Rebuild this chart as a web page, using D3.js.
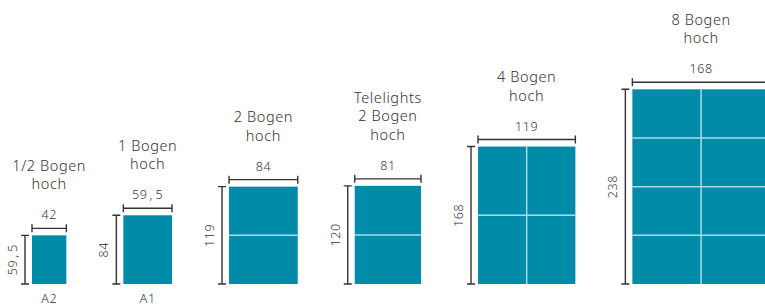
<!DOCTYPE html>
<html><head><meta charset="utf-8">
<script src="https://cdn.jsdelivr.net/npm/d3@7"></script>
<style>
html,body{margin:0;padding:0;background:#fff;}
svg{display:block;}
text{font-family:"Noto Sans",sans-serif;fill:#333;font-weight:300;}
</style></head>
<body>
<div id="chart"></div>
<script>
const titles = [["1/2 Bogen","hoch"],["1 Bogen","hoch"],["2 Bogen","hoch"],["Telelights","2 Bogen","hoch"],["4 Bogen","hoch"],["8 Bogen","hoch"]];
const widthsCm = [42, 59.5, 84, 81, 119, 168];
const heightsCm = [59.5, 84, 119, 120, 168, 238];
const widthLabels = ["42","59,5","84","81","119","168"];
const heightLabels = ["59,5","84","119","120","168","238"];
const gridCols = [1,1,1,1,2,2];
const gridRows = [1,1,2,2,2,4];
const formatLabels = ["A2","A1","","","",""];

const W = 765, H = 307;
const baseY = 284, startX = 32, gap = 57;
const s = d3.scaleLinear().domain([0, 238]).range([0, 194.7]);

const svg = d3.select("#chart").append("svg").attr("width", W).attr("height", H);

let cx = startX;
const items = widthsCm.map((w, i) => {
  const x = cx, wpx = s(w), hpx = s(heightsCm[i]);
  cx += wpx + gap;
  return {i, x, w: wpx, h: hpx, y: baseY - hpx};
});

const teal = "#008ca8", grid = "#a9dbe6", ink = "#333";

// writes a number label, giving the decimal comma a little extra room
function numText(sel, str) {
  const parts = str.split(",");
  if (parts.length === 1) { sel.text(str); return; }
  sel.append("tspan").text(parts[0]);
  sel.append("tspan").attr("dx", 2).text(",");
  sel.append("tspan").attr("dx", 2.5).text(parts[1]);
}

const g = svg.selectAll("g.item").data(items).join("g").attr("class","item");

g.append("rect").attr("x", d => d.x).attr("y", d => d.y).attr("width", d => d.w).attr("height", d => d.h).attr("fill", teal);

// grid lines
g.each(function(d){
  const sel = d3.select(this);
  const c = gridCols[d.i], r = gridRows[d.i];
  for (let k = 1; k < c; k++) {
    const xx = d.x + d.w * k / c;
    sel.append("line").attr("x1", xx).attr("x2", xx).attr("y1", d.y).attr("y2", d.y + d.h).attr("stroke", grid).attr("stroke-width", 1.5);
  }
  for (let k = 1; k < r; k++) {
    const yy = d.y + d.h * k / r;
    sel.append("line").attr("x1", d.x).attr("x2", d.x + d.w).attr("y1", yy).attr("y2", yy).attr("stroke", grid).attr("stroke-width", 1.5);
  }
});

// width dimension
g.append("path").attr("d", d => {
  const y = d.y - 7, x0 = d.x, x1 = d.x + d.w;
  return `M${x0},${y}H${x1}M${x0},${y-4}V${y+4}M${x1},${y-4}V${y+4}`;
}).attr("stroke", ink).attr("stroke-width", 1.4).attr("fill","none");

g.append("text").attr("x", d => d.x + d.w/2).attr("y", d => d.y - 16)
  .attr("text-anchor","middle").attr("font-size", 12.5).attr("letter-spacing", 0.6)
  .each(function(d){ numText(d3.select(this), widthLabels[d.i]); });

// height dimension
g.append("path").attr("d", d => {
  const x = d.x - 7, y0 = d.y, y1 = d.y + d.h;
  return `M${x},${y0}V${y1}M${x-4},${y0}H${x+4}M${x-4},${y1}H${x+4}`;
}).attr("stroke", ink).attr("stroke-width", 1.4).attr("fill","none");

g.append("text").attr("transform", d => `translate(${d.x - 15},${d.y + d.h/2}) rotate(-90)`)
  .attr("text-anchor","middle").attr("font-size", 12.5).attr("letter-spacing", 0.6)
  .each(function(d){ numText(d3.select(this), heightLabels[d.i]); });

// titles: one text per line
g.each(function(d){
  const lines = titles[d.i];
  const n = lines.length;
  d3.select(this).selectAll("text.title").data(lines).join("text").attr("class","title")
    .attr("text-anchor","middle").attr("font-size", 14.5).attr("letter-spacing", 0.6)
    .attr("x", d.x + d.w/2).attr("y", (ln, k) => d.y - 46 - (n - 1 - k) * 18.5)
    .text(ln => ln);
});

// format labels
g.append("text").attr("x", d => d.x + d.w/2).attr("y", baseY + 19)
  .attr("text-anchor","middle").attr("font-size", 12.5).attr("letter-spacing", 0.6)
  .text(d => formatLabels[d.i]);
</script>
</body></html>
